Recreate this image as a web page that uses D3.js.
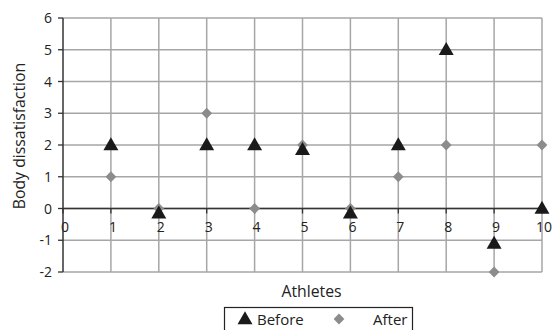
<!DOCTYPE html>
<html><head><meta charset="utf-8">
<script src="https://cdn.jsdelivr.net/npm/d3@7"></script>
<style>body{margin:0;background:#fff}svg{display:block}text{font-family:"Open Sans",sans-serif;fill:#222}</style>
</head><body><svg id="c" width="553" height="330"></svg>
<script>
const athletes = [1,2,3,4,5,6,7,8,9,10];
const before = [2,-0.15,2,2,1.85,-0.15,2,5,-1.1,0];
const after = [1,0,3,0,2,0,1,2,-2,2];
const xTicks = [0,1,2,3,4,5,6,7,8,9,10];
const yTicks = [-2,-1,0,1,2,3,4,5,6];

const svg = d3.select("#c");
const L=63,R=542,T=18,B=272;
const x = d3.scaleLinear().domain([0,10]).range([L,R]);
const y = d3.scaleLinear().domain([-2,6]).range([B,T]);

// grid
const g = svg.append("g");
g.selectAll(".vg").data(xTicks.slice(1)).enter().append("line")
 .attr("x1",d=>x(d)).attr("x2",d=>x(d)).attr("y1",T).attr("y2",B)
 .attr("stroke","#a6a6a6").attr("stroke-width",1.5);
g.selectAll(".hg").data(yTicks).enter().append("line")
 .attr("x1",L).attr("x2",R).attr("y1",d=>y(d)).attr("y2",d=>y(d))
 .attr("stroke","#a6a6a6").attr("stroke-width",1.5);

// x axis at 0
svg.append("line").attr("x1",L).attr("x2",R).attr("y1",y(0)).attr("y2",y(0)).attr("stroke","#333").attr("stroke-width",1.3);
svg.selectAll(".xt").data(xTicks).enter().append("line")
 .attr("x1",d=>x(d)).attr("x2",d=>x(d)).attr("y1",y(0)).attr("y2",y(0)+5).attr("stroke","#333").attr("stroke-width",1.3);
svg.selectAll(".xl").data(xTicks).enter().append("text")
 .attr("x",d=>x(d)+2).attr("y",y(0)+23).attr("text-anchor","middle").attr("font-size",14).text(d=>d);

// y axis
svg.append("line").attr("x1",L).attr("x2",L).attr("y1",T).attr("y2",B).attr("stroke","#333").attr("stroke-width",1.5);
svg.selectAll(".yt").data(yTicks).enter().append("line")
 .attr("x1",L-5).attr("x2",L).attr("y1",d=>y(d)).attr("y2",d=>y(d)).attr("stroke","#333").attr("stroke-width",1.3);
svg.selectAll(".yl").data(yTicks).enter().append("text")
 .attr("x",L-11).attr("y",d=>y(d)+5).attr("text-anchor","end").attr("font-size",14).text(d=>d);

// titles
svg.append("text").attr("transform",`translate(25,136) rotate(-90)`).attr("text-anchor","middle").attr("font-size",15.8).text("Body dissatisfaction");
svg.append("text").attr("x",311.5).attr("y",297).attr("text-anchor","middle").attr("font-size",15.8).text("Athletes");

// markers
const tri = d3.symbol().type(d3.symbolTriangle).size(97);
const dia = d3.symbol().type(d3.symbolSquare).size(58);
svg.selectAll(".af").data(athletes).enter().append("path")
 .attr("d",dia).attr("transform",(d,i)=>`translate(${x(d)},${y(after[i])}) rotate(45)`).attr("fill","#8c8c8c");
svg.selectAll(".bf").data(athletes).enter().append("path")
 .attr("d",tri).attr("transform",(d,i)=>`translate(${x(d)},${y(before[i])+1})`).attr("fill","#1a1a1a");

// legend
const lg = svg.append("g");
lg.append("rect").attr("x",224.5).attr("y",307.5).attr("width",188).attr("height",30).attr("fill","#fff").attr("stroke","#222").attr("stroke-width",1.2);
lg.append("path").attr("d",tri).attr("transform","translate(245,320)").attr("fill","#1a1a1a");
lg.append("text").attr("x",257).attr("y",325).attr("font-size",15).text("Before");
lg.append("path").attr("d",dia).attr("transform","translate(339,319) rotate(45)").attr("fill","#8c8c8c");
lg.append("text").attr("x",373).attr("y",325).attr("font-size",15).text("After");
</script></body></html>
